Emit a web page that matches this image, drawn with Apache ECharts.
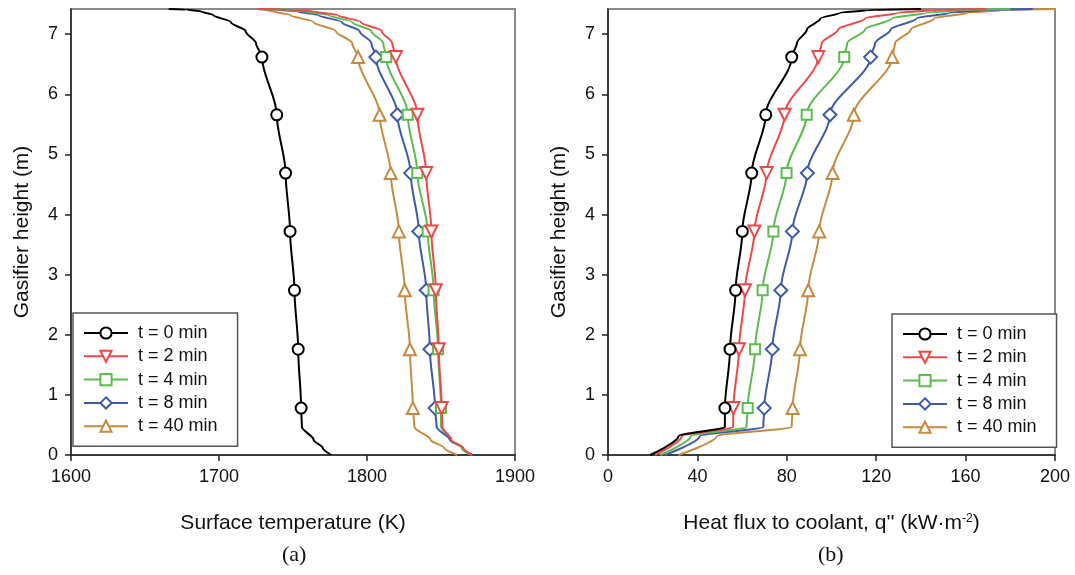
<!DOCTYPE html>
<html><head><meta charset="utf-8">
<script src="https://cdn.jsdelivr.net/npm/echarts@6/dist/echarts.min.js"></script>
<style>html,body{margin:0;padding:0;background:#fff}#c{width:1075px;height:575px}</style>
</head><body><div id="c"></div>
<script>
const seriesNames = ['t = 0 min', 't = 2 min', 't = 4 min', 't = 8 min', 't = 40 min'];
const yTicks = [0, 1, 2, 3, 4, 5, 6, 7];

// (a) surface temperature (K) vs gasifier height (m)
const heightsA = [0, 0.12, 0.25, 0.47, 0.78, 1.76, 2.74, 3.72, 4.69, 5.66, 6.62, 6.85, 7.05, 7.2, 7.32, 7.38, 7.41, 7.42];
const markerIdxA = [4, 5, 6, 7, 8, 9, 10];
const tempT0  = [1776, 1770, 1764, 1756, 1755.5, 1753.5, 1751, 1748, 1745, 1739, 1729, 1725, 1718, 1708, 1696, 1688, 1678, 1666];
const tempT2  = [1871, 1865, 1857, 1851, 1850.5, 1848.5, 1846.5, 1843.5, 1840, 1834, 1819.5, 1817, 1810, 1796, 1780, 1764, 1746, 1726];
const tempT4  = [1870, 1864, 1857, 1850, 1850, 1848, 1845, 1841, 1834, 1827.5, 1813, 1811, 1803, 1790, 1774, 1758, 1742, 1726];
const tempT8  = [1871.5, 1864, 1856, 1847, 1846, 1842.5, 1840, 1835, 1829.5, 1820.5, 1806, 1803, 1795, 1783, 1767, 1753, 1738, 1726];
const tempT40 = [1861, 1852, 1843, 1832, 1831, 1829, 1825.5, 1821.5, 1816, 1808.5, 1794, 1790, 1779, 1764, 1748, 1737, 1730, 1726];

// (b) heat flux to coolant (kW/m2) vs gasifier height (m)
const heightsB = [0, 0.31, 0.47, 0.78, 1.76, 2.74, 3.72, 4.69, 5.66, 6.62, 6.85, 7.08, 7.26, 7.36, 7.40, 7.42];
const markerIdxB = [3, 4, 5, 6, 7, 8, 9];
const fluxT0  = [18.8, 31.5, 52.3, 52.3, 54.6, 57.1, 60.1, 64.3, 70.6, 82.2, 84.5, 89, 95, 104, 116, 140];
const fluxT2  = [21, 33, 56, 56.1, 58.6, 61.3, 65.5, 71, 79, 94.1, 95.6, 103, 115, 130, 145, 169];
const fluxT4  = [23.3, 37, 62, 62.5, 65.8, 69.2, 74, 79.9, 88.9, 105.7, 107, 115, 127, 142.6, 157, 180];
const fluxT8  = [25.5, 41, 69.5, 69.9, 73.5, 77.3, 82.5, 89.2, 99.3, 117.5, 119.5, 126.5, 138, 153, 168, 190];
const fluxT40 = [31.5, 48.6, 82.2, 82.6, 85.9, 89.6, 94.5, 100.5, 110, 127.2, 128.4, 135.5, 146, 161, 176, 200];

const colors = ['#000000', '#f04848', '#5cbc4e', '#3d5aad', '#c78a40'];
const symbols = ['circle', 'triangle', 'rect', 'diamond', 'triangle'];
const symbolRot = [0, 180, 0, 0, 0];
const symbolSizes = [11, 12, 10, 13, 12];

const FONT = 'Liberation Sans, Arial, sans-serif';

function makeSeries(values, heights, markers, i, gi) {
  return {
    type: 'line',
    name: seriesNames[i],
    xAxisIndex: gi, yAxisIndex: gi,
    data: values.map((v, k) => [v, heights[k]]),
    smooth: 0.3,
    smoothMonotone: 'y',
    showAllSymbol: true,
    symbol: symbols[i],
    symbolRotate: symbolRot[i],
    symbolSize: (val, p) => markers.indexOf(p.dataIndex) >= 0 ? symbolSizes[i] : 0,
    color: colors[i],
    lineStyle: { color: colors[i], width: 2 },
    itemStyle: { color: '#ffffff', borderColor: colors[i], borderWidth: 2 },
    emphasis: { disabled: true },
    z: 10 - i
  };
}

const tempSets = [tempT0, tempT2, tempT4, tempT8, tempT40];
const fluxSets = [fluxT0, fluxT2, fluxT4, fluxT8, fluxT40];
const series = [];
tempSets.forEach((s, i) => series.push(makeSeries(s, heightsA, markerIdxA, i, 0)));
fluxSets.forEach((s, i) => series.push(makeSeries(s, heightsB, markerIdxB, i, 1)));

const axisLineStyle = { color: '#222', width: 1.5 };
function xAxis(gi, min, max, interval, name) {
  return {
    type: 'value', gridIndex: gi, min: min, max: max, interval: interval,
    axisLine: { show: true, onZero: false, lineStyle: axisLineStyle },
    axisTick: { show: true, inside: false, length: 6, lineStyle: axisLineStyle },
    axisLabel: { fontSize: 18, color: '#111', margin: 13, fontFamily: FONT, formatter: v => String(v) },
    splitLine: { show: false },
    name: name, nameLocation: 'middle', nameGap: 58,
    nameTextStyle: { fontSize: 21, color: '#111', fontFamily: FONT,
      rich: { sup: { fontSize: 12, verticalAlign: 'top', color: '#111', fontFamily: FONT, padding: [0, 0, 8, 0] } } }
  };
}
function yAxis(gi) {
  return {
    type: 'value', gridIndex: gi, min: 0, max: 7.42,
    axisLine: { show: true, onZero: false, lineStyle: axisLineStyle },
    axisTick: { show: true, inside: false, length: 6, lineStyle: axisLineStyle, customValues: yTicks },
    axisLabel: { fontSize: 18, color: '#111', margin: 13, fontFamily: FONT, customValues: yTicks },
    splitLine: { show: false },
    name: 'Gasifier height (m)', nameLocation: 'middle', nameGap: 38,
    nameTextStyle: { fontSize: 21, color: '#111', fontFamily: FONT }
  };
}
function legend(left, top) {
  return {
    left: left, top: top, orient: 'vertical',
    data: seriesNames,
    itemWidth: 44, itemHeight: 14, itemGap: 3.3,
    padding: [10, 20, 10, 10],
    borderColor: '#555', borderWidth: 1.5, backgroundColor: '#fff',
    textStyle: { fontSize: 18, color: '#111', fontFamily: FONT, lineHeight: 20, padding: [0, 0, 0, 5] },
    selectedMode: false
  };
}

const chart = echarts.init(document.getElementById('c'), null, { renderer: 'canvas' });
chart.setOption({
  animation: false,
  backgroundColor: '#fff',
  grid: [
    { left: 71, top: 9, width: 444, height: 446, show: true, borderColor: '#8a8a8a', borderWidth: 2, backgroundColor: 'transparent' },
    { left: 608, top: 9, width: 447, height: 446, show: true, borderColor: '#8a8a8a', borderWidth: 2, backgroundColor: 'transparent' }
  ],
  xAxis: [
    xAxis(0, 1600, 1900, 100, 'Surface temperature (K)'),
    xAxis(1, 0, 200, 40, 'Heat flux to coolant, q\'\' (kW\u00b7m{sup|-2})')
  ],
  yAxis: [yAxis(0), yAxis(1)],
  legend: [legend(73, 313), legend(892, 314)],
  series: series,
  graphic: [
    { type: 'text', left: 282, top: 544, style: { text: '(a)', fontSize: 22, fontFamily: 'Liberation Serif, Times New Roman, serif', fill: '#111' } },
    { type: 'text', left: 818, top: 544, style: { text: '(b)', fontSize: 22, fontFamily: 'Liberation Serif, Times New Roman, serif', fill: '#111' } }
  ]
});
</script>
</body></html>
